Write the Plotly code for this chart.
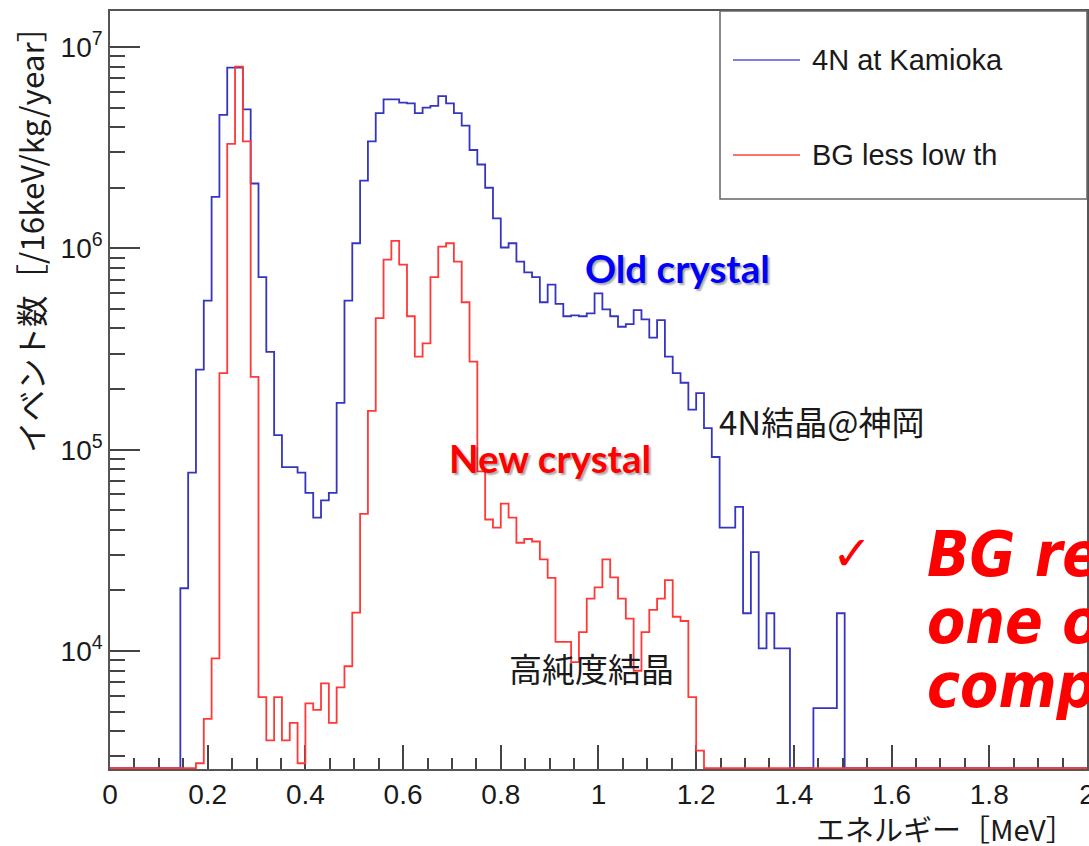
import plotly.graph_objects as go

# ---------------- data ----------------
BIN_WIDTH_MEV = 0.016  # 16 keV bins, 0 - 2 MeV

# "4N at Kamioka" (blue) counts per bin
blue_4n_kamioka = [
    0, 0, 0, 0, 0, 0, 0, 0, 0,
    2.05e4, 7.7e4, 2.5e5, 5.5e5, 1.8e6, 4.6e6, 7.9e6, 7.9e6, 4.9e6, 2.1e6,
    7.2e5, 3.06e5, 1.18e5, 8.2e4, 8.2e4, 7.7e4, 6.1e4, 4.6e4, 5.6e4, 6.1e4,
    1.71e5, 5.5e5, 1.06e6, 2.17e6, 3.4e6, 4.7e6, 5.5e6, 5.5e6, 5.3e6, 5.25e6,
    4.7e6, 5.0e6, 5.1e6, 5.7e6, 5.25e6, 4.7e6, 4.07e6, 3.08e6, 2.61e6, 2.0e6,
    1.41e6, 1.01e6, 1.06e6, 8.6e5, 7.6e5, 7.2e5, 5.4e5, 6.6e5, 5.3e5, 4.6e5,
    4.65e5, 4.6e5, 4.75e5, 5.97e5, 4.98e5, 4.6e5, 4.08e5, 4.2e5, 4.93e5, 4.44e5,
    3.6e5, 4.4e5, 2.9e5, 2.4e5, 2.15e5, 1.58e5, 1.91e5, 1.28e5, 9.2e4, 4.1e4,
    4.1e4, 5.2e4, 1.54e4, 3.1e4, 1.03e4, 1.54e4, 1.03e4, 1.03e4, 0, 0,
    0, 5.2e3, 5.2e3, 5.2e3, 1.54e4,
    0, 0, 0, 0, 0, 0, 0, 0, 0, 0, 0, 0, 0, 0, 0, 0,
    0, 0, 0, 0, 0, 0, 0, 0, 0, 0, 0, 0, 0, 0, 0,
]

# "BG less low th" (red) counts per bin
red_bg_less_low_th = [
    0, 0, 0, 0, 0, 0, 0, 0, 0, 0, 0,
    2.77e3, 4.6e3, 9.2e3, 2.4e5, 3.3e6, 8.0e6, 3.4e6, 2.3e5, 5.9e3,
    3.6e3, 5.9e3, 3.6e3, 4.4e3, 2.77e3, 5.5e3, 5.1e3, 6.9e3, 4.4e3, 6.6e3,
    8.4e3, 1.55e4, 4.8e4, 1.56e5, 4.5e5, 8.8e5, 1.09e6, 8.3e5, 4.6e5, 2.9e5,
    3.37e5, 7.2e5, 1.02e6, 1.06e6, 8.6e5, 5.4e5, 2.74e5, 7.8e4, 4.5e4, 4.1e4,
    5.4e4, 4.6e4, 3.45e4, 3.6e4, 3.5e4, 2.85e4, 2.31e4, 1.11e4, 1.11e4, 8.8e3,
    1.24e4, 1.82e4, 2.07e4, 2.85e4, 2.32e4, 1.82e4, 1.45e4, 7.98e3, 1.24e4, 1.6e4,
    1.82e4, 2.25e4, 1.48e4, 1.41e4, 5.9e3, 3.2e3,
    0, 0, 0, 0, 0, 0, 0, 0, 0, 0, 0, 0, 0, 0, 0, 0, 0, 0, 0, 0,
    0, 0, 0, 0, 0, 0, 0, 0, 0, 0, 0, 0, 0, 0, 0, 0, 0, 0, 0, 0,
    0, 0, 0, 0, 0, 0, 0, 0, 0,
]

series_names = ["4N at Kamioka", "BG less low th"]

x_tick_vals = [0, 0.2, 0.4, 0.6, 0.8, 1.0, 1.2, 1.4, 1.6, 1.8, 2.0]
x_tick_text = ["0", "0.2", "0.4", "0.6", "0.8", "1", "1.2", "1.4", "1.6", "1.8", "2"]
y_tick_vals = [1e4, 1e5, 1e6, 1e7]
y_tick_text = ["10<sup>4</sup>", "10<sup>5</sup>", "10<sup>6</sup>", "10<sup>7</sup>"]

# ---------------- layout constants ----------------
W, H = 1089, 846
ML, MR, MT, MB = 110, 2, 11, 77
PW, PH = W - ML - MR, H - MT - MB
Y_MIN_LOG, Y_MAX_LOG = 3.414, 7.179
FLOOR = 10 ** (Y_MIN_LOG + 0.004)  # empty bins drawn on the bottom frame


def px_x(p):
    return (p - ML) / PW


def px_y(p):
    return (H - MB - p) / PH


def step_xy(vals):
    edges = [i * BIN_WIDTH_MEV for i in range(len(vals) + 1)]
    ys = [v if v > 0 else FLOOR for v in vals]
    ys = ys + [ys[-1]]
    return edges, ys


BLUE = "#3535c0"
RED = "#ff3838"
TICK_FONT = dict(family="Liberation Sans, Arial, sans-serif", size=28, color="#1a1a1a")
JP = "Noto Sans CJK JP, sans-serif"

fig = go.Figure()
for vals, name, col in [(blue_4n_kamioka, series_names[0], BLUE),
                        (red_bg_less_low_th, series_names[1], RED)]:
    xs, ys = step_xy(vals)
    fig.add_trace(go.Scatter(x=xs, y=ys, mode="lines", name=name,
                             line=dict(color=col, width=1.8, shape="hv"),
                             showlegend=False, hoverinfo="skip"))

minor_y = [m * 10 ** e for e in range(3, 7) for m in range(2, 10)]

fig.update_layout(
    width=W, height=H, autosize=False,
    margin=dict(l=ML, r=MR, t=MT, b=MB, pad=0, autoexpand=False),
    paper_bgcolor="white", plot_bgcolor="white",
    showlegend=False,
    xaxis=dict(range=[0, 2.0001], tickvals=x_tick_vals, ticktext=x_tick_text,
               ticks="inside", ticklen=24, tickwidth=1.5, tickcolor="#444",
               minor=dict(dtick=0.05, tick0=0, ticks="inside", ticklen=11,
                          tickwidth=1.5, tickcolor="#444"),
               showline=True, linecolor="#555", linewidth=1.5, mirror=True,
               showgrid=False, zeroline=False, tickfont=TICK_FONT,
               ticklabeloverflow="allow", automargin=False, layer="below traces"),
    yaxis=dict(type="log", range=[Y_MIN_LOG, Y_MAX_LOG], tickvals=y_tick_vals,
               ticktext=y_tick_text, ticks="inside", ticklen=30, tickwidth=1.5,
               tickcolor="#444",
               minor=dict(tickvals=minor_y, ticks="inside", ticklen=15,
                          tickwidth=1.5, tickcolor="#444"),
               showline=True, linecolor="#555", linewidth=1.5, mirror=True,
               showgrid=False, zeroline=False, tickfont=TICK_FONT,
               automargin=False, layer="below traces"),
)

# ---------------- legend box (ROOT style) ----------------
shapes = [
    dict(type="rect", xref="paper", yref="paper", x0=px_x(720), x1=1.0,
         y0=px_y(199), y1=1.0, line=dict(color="#666", width=1.5),
         fillcolor="white", layer="above"),
    dict(type="line", xref="paper", yref="paper", x0=px_x(733), x1=px_x(800),
         y0=px_y(60), y1=px_y(60), line=dict(color="#8080d8", width=2), layer="above"),
    dict(type="line", xref="paper", yref="paper", x0=px_x(733), x1=px_x(800),
         y0=px_y(155), y1=px_y(155), line=dict(color="#ff7070", width=2), layer="above"),
]
fig.update_layout(shapes=shapes)

ann = []
LEG_FONT = dict(family="Liberation Sans, Arial, sans-serif", size=29, color="#1a1a1a")
ann.append(dict(text=series_names[0], x=px_x(810), y=px_y(60), xanchor="left",
                yanchor="middle", font=LEG_FONT))
ann.append(dict(text=series_names[1], x=px_x(810), y=px_y(155), xanchor="left",
                yanchor="middle", font=LEG_FONT))

# axis titles
ann.append(dict(text="エネルギー［MeV］", x=px_x(1077), y=px_y(828), xanchor="right",
                yanchor="middle", font=dict(family=JP, size=29, color="#1a1a1a")))
ann.append(dict(text="イベント数［/16keV/kg/year］", x=px_x(30), y=px_y(9),
                xanchor="center", yanchor="top", textangle=-90,
                font=dict(family=JP, size=31.5, color="#1a1a1a")))

# labels on the plot
SHADOW = "2px 2px 2px rgba(0,0,0,0.35)"
ann.append(dict(text="<b>Old crystal</b>", x=px_x(677), y=px_y(268),
                font=dict(family="Lato, Open Sans, sans-serif", size=38.5,
                          color="#0000ff", shadow=SHADOW)))
ann.append(dict(text="<b>New crystal</b>", x=px_x(550), y=px_y(458),
                font=dict(family="Lato, Open Sans, sans-serif", size=38.5,
                          color="#ff0000", shadow=SHADOW)))
ann.append(dict(text="4N結晶@神岡", x=px_x(821), y=px_y(421),
                font=dict(family=JP, size=33, color="#1a1a1a")))
ann.append(dict(text="高純度結晶", x=px_x(591), y=px_y(668),
                font=dict(family=JP, size=33, color="#1a1a1a")))
ann.append(dict(text="✓", x=px_x(852), y=px_y(553),
                font=dict(family="DejaVu Sans, sans-serif", size=48, color="#ff0000")))

BIG = dict(family="Liberation Sans Narrow, DejaVu Sans Condensed, Liberation Sans, sans-serif",
           size=62, color="#ff0000", weight="bold", style="italic")
for txt, yc in [("BG reduced by", 554), ("one order of magnitude", 621),
                ("compared with old crystal", 685)]:
    ann.append(dict(text=txt, x=px_x(925), y=px_y(yc), xanchor="left",
                    yanchor="middle", font=BIG))

for a in ann:
    a.setdefault("xref", "paper")
    a.setdefault("yref", "paper")
    a.setdefault("showarrow", False)
    a.setdefault("xanchor", "center")
    a.setdefault("yanchor", "middle")
fig.update_layout(annotations=ann)

fig.write_html("out.html")
